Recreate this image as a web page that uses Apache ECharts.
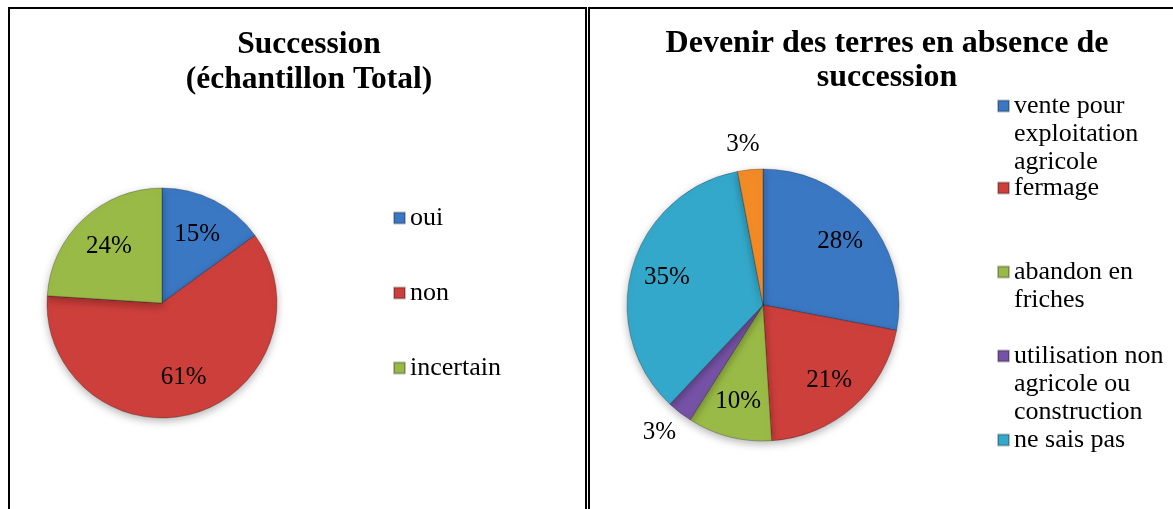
<!DOCTYPE html>
<html>
<head>
<meta charset="utf-8">
<script src="https://cdn.jsdelivr.net/npm/echarts@6/dist/echarts.min.js"></script>
<style>
  html, body { margin: 0; padding: 0; background: #fff; }
  #chart { width: 1173px; height: 509px; }
</style>
</head>
<body>
<div id="chart"></div>
<script>
// Succession (échantillon Total)
var leftNames = ['oui', 'non', 'incertain'];
var leftValues = [15, 61, 24];

// Devenir des terres en absence de succession
var rightNames = [
  'vente pour\nexploitation\nagricole',
  'fermage',
  'abandon en\nfriches',
  'utilisation non\nagricole ou\nconstruction',
  'ne sais pas',
  'autre'
];
var rightValues = [28, 21, 10, 3, 35, 3];
var rightLegendNames = rightNames.slice(0, 5);

var serif = '"Liberation Serif", "Times New Roman", serif';
var leftColors = ['#3b78c4', '#cc3f3b', '#9aba47'];
var rightColors = ['#3b78c4', '#cc3f3b', '#9aba47', '#7652a6', '#34a8ca', '#f28b26'];

// first line centre of each legend entry on the right
var legendLineY = [106, 188, 272, 356, 440];
var legendLH = 28;

function toData(names, values) {
  return names.map(function (n, i) {
    var item = { name: n, value: values[i] };
    if (values[i] < 5) {
      item.label = { position: 'outside' };
      item.labelLine = { show: false, length: 25, length2: 0 };
    }
    return item;
  });
}

var sliceStyle = {
  borderColor: 'rgba(0,0,0,0.25)',
  borderWidth: 1,
  shadowBlur: 8,
  shadowOffsetY: 3,
  shadowColor: 'rgba(0,0,0,0.3)'
};

var labelStyle = {
  show: true,
  position: 'inside',
  formatter: '{c}%',
  color: '#000',
  fontSize: 25,
  fontFamily: serif
};

var rightLegends = rightLegendNames.map(function (n, i) {
  var lines = n.split('\n').length;
  var total = 2 * lines - 1;
  return {
    data: [n],
    orient: 'vertical',
    left: 997,
    top: legendLineY[i] - total * legendLH / 2,
    padding: 0,
    icon: 'rect',
    itemWidth: 11,
    itemHeight: 11,
    selectedMode: false,
    formatter: function (name) {
      // blank lines in front so the marker sits on the first line
      return new Array(name.split('\n').length).join('\n') + name;
    },
    textStyle: { fontFamily: serif, fontSize: 26, lineHeight: legendLH, color: '#000' }
  };
});

var chart = echarts.init(document.getElementById('chart'));
chart.setOption({
  animation: false,
  textStyle: { fontFamily: serif },
  title: [
    {
      text: 'Succession\n(échantillon Total)',
      left: 304,
      top: 22,
      textAlign: 'center',
      textStyle: { fontFamily: serif, fontSize: 31.5, fontWeight: 'bold', lineHeight: 35, color: '#000' }
    },
    {
      text: 'Devenir des terres en absence de\nsuccession',
      left: 882,
      top: 22,
      textAlign: 'center',
      textStyle: { fontFamily: serif, fontSize: 32, fontWeight: 'bold', lineHeight: 34, color: '#000' }
    }
  ],
  legend: [
    {
      data: leftNames,
      orient: 'vertical',
      left: 393,
      top: 205,
      padding: 0,
      icon: 'rect',
      itemWidth: 11,
      itemHeight: 11,
      itemGap: 49,
      selectedMode: false,
      textStyle: { fontFamily: serif, fontSize: 26, lineHeight: 26, color: '#000' }
    }
  ].concat(rightLegends),
  graphic: [
    { type: 'rect', shape: { x: 9, y: 8, width: 577, height: 520 }, style: { fill: 'none', stroke: '#000', lineWidth: 2 }, silent: true },
    { type: 'rect', shape: { x: 589, y: 8, width: 620, height: 520 }, style: { fill: 'none', stroke: '#000', lineWidth: 2 }, silent: true }
  ],
  series: [
    {
      type: 'pie',
      center: [162, 303],
      radius: 115,
      startAngle: 90,
      clockwise: true,
      color: leftColors,
      data: toData(leftNames, leftValues),
      label: { show: false },
      labelLine: { show: false },
      itemStyle: sliceStyle,
      emphasis: { disabled: true }
    },
    {
      type: 'pie',
      center: [763, 305],
      radius: 136,
      startAngle: 90,
      clockwise: true,
      color: rightColors,
      data: toData(rightNames, rightValues),
      label: { show: false },
      labelLine: { show: false },
      itemStyle: sliceStyle,
      emphasis: { disabled: true }
    },
    // label carriers: same slices, transparent, labels pushed outward
    {
      type: 'pie',
      silent: true,
      center: [162, 303],
      radius: [34, 115],
      startAngle: 90,
      data: toData(leftNames, leftValues),
      itemStyle: { color: 'transparent' },
      label: labelStyle,
      labelLine: { show: false }
    },
    {
      type: 'pie',
      silent: true,
      center: [763, 305],
      radius: [58, 136],
      startAngle: 90,
      data: toData(rightNames, rightValues),
      itemStyle: { color: 'transparent' },
      label: labelStyle,
      labelLine: { show: false },
      labelLayout: function (p) {
        return rightValues[p.dataIndex] < 5 ? { align: 'center' } : {};
      }
    }
  ]
});
</script>
</body>
</html>
